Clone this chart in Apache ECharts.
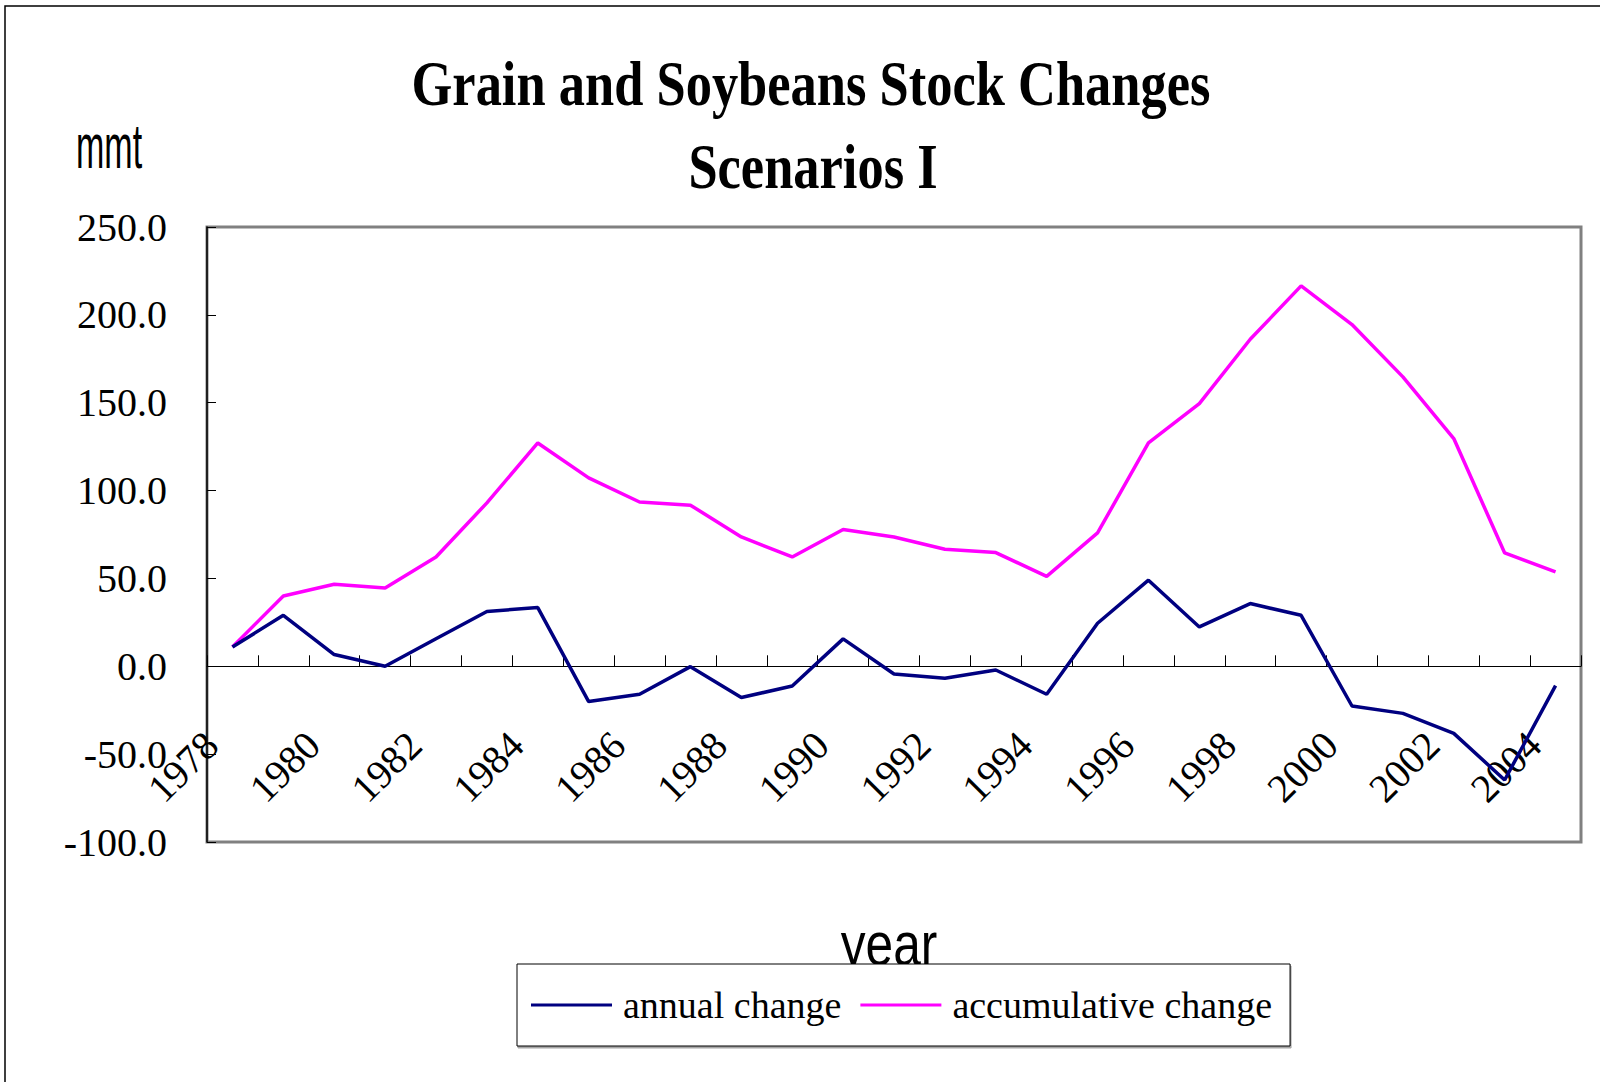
<!DOCTYPE html>
<html>
<head>
<meta charset="utf-8">
<script src="https://cdn.jsdelivr.net/npm/echarts@6/dist/echarts.min.js"></script>
<style>
html,body{margin:0;padding:0;background:#fff;}
#chart{width:1600px;height:1082px;}
</style>
</head>
<body>
<div id="chart"></div>
<script>
var years = ['1978','1979','1980','1981','1982','1983','1984','1985','1986','1987','1988','1989','1990','1991','1992','1993','1994','1995','1996','1997','1998','1999','2000','2001','2002','2003','2004'];
var annualChange = [11.0, 29.0, 6.7, 0.0, 15.7, 31.2, 33.4, -20.1, -15.9, -0.2, -17.8, -11.2, 15.6, -4.4, -6.8, -2.1, -15.9, 24.5, 49.0, 22.4, 35.7, 29.0, -22.6, -26.8, -38.2, -64.7, -11.0];
var accumulativeChange = [11.0, 40.0, 46.7, 44.6, 62.2, 93.0, 127.1, 107.2, 93.5, 91.7, 73.6, 62.2, 77.8, 73.6, 66.6, 64.7, 51.2, 75.9, 127.1, 149.5, 186.1, 216.5, 194.5, 164.7, 129.6, 64.5, 53.7];
var seriesNames = ['annual change', 'accumulative change'];
var titleLines = ['Grain and Soybeans Stock Changes', 'Scenarios I'];
var yUnit = 'mmt';
var xName = 'year';
var yMin = -100, yMax = 250, yStep = 50;

var serif = "'Liberation Serif','Times New Roman',serif";
var sans = "'Liberation Sans',Arial,sans-serif";

var gridTop = 227, gridBottom = 240, chartH = 1082;
var plotH = chartH - gridTop - gridBottom;
// distance from the bottom edge of the plot up to the value 0
var zeroOffset = plotH * (0 - yMin) / (yMax - yMin);

var chart = echarts.init(document.getElementById('chart'), null, {renderer: 'svg'});
chart.setOption({
  backgroundColor: '#fff',
  animation: false,
  graphic: [
    {type: 'rect', z: 0, shape: {x: 5, y: 6, width: 1700, height: 1200}, style: {fill: 'none', stroke: '#000', lineWidth: 1.5}},
    {type: 'text', z: 1, x: 811, y: 84, scaleX: 0.82, style: {text: titleLines[0], font: 'bold 64px ' + serif, fill: '#000', textAlign: 'center', textVerticalAlign: 'middle', align: 'center', verticalAlign: 'middle'}},
    {type: 'text', z: 1, x: 813, y: 167, scaleX: 0.82, style: {text: titleLines[1], font: 'bold 64px ' + serif, fill: '#000', textAlign: 'center', textVerticalAlign: 'middle', align: 'center', verticalAlign: 'middle'}},
    {type: 'text', z: 1, x: 76, y: 146, scaleX: 0.54, style: {text: yUnit, font: '63px ' + sans, fill: '#000', textAlign: 'left', textVerticalAlign: 'middle', align: 'left', verticalAlign: 'middle'}},
    {type: 'text', z: 1, x: 889, y: 943, scaleX: 0.8, style: {text: xName, font: '62px ' + sans, fill: '#000', textAlign: 'center', textVerticalAlign: 'middle', align: 'center', verticalAlign: 'middle'}}
  ],
  grid: {left: 207, right: 19, top: gridTop, bottom: gridBottom, show: true, borderColor: '#808080', borderWidth: 3, backgroundColor: 'transparent', containLabel: false, outerBoundsMode: 'none'},
  legend: {
    z: 10,
    left: 517, top: 964,
    orient: 'horizontal',
    padding: [22, 18, 22, 14],
    itemGap: 19,
    itemWidth: 81,
    itemHeight: 3,
    icon: 'rect',
    data: seriesNames,
    selectedMode: false,
    textStyle: {fontFamily: serif, fontSize: 38, color: '#000', padding: [0, 0, 0, 6]},
    borderColor: '#000',
    borderWidth: 1,
    backgroundColor: '#fff',
    shadowColor: 'rgba(0,0,0,0.35)',
    shadowOffsetX: 1,
    shadowOffsetY: 2,
    shadowBlur: 0
  },
  xAxis: {
    type: 'category',
    data: years,
    boundaryGap: true,
    position: 'bottom',
    offset: -zeroOffset,
    axisLine: {show: true, onZero: false, lineStyle: {color: '#000', width: 1}},
    axisTick: {show: true, inside: true, length: 11, interval: 0, lineStyle: {color: '#000', width: 1}},
    axisLabel: {interval: 1, rotate: 45, margin: 51, padding: [0, 30, 0, 0], fontFamily: serif, fontSize: 40, color: '#000', hideOverlap: false},
    splitLine: {show: false}
  },
  yAxis: {
    type: 'value',
    min: yMin, max: yMax, interval: yStep,
    axisLine: {show: true, onZero: false, lineStyle: {color: '#000', width: 1.5}},
    axisTick: {show: true, inside: true, length: 9, lineStyle: {color: '#000', width: 1}},
    axisLabel: {margin: 40, fontFamily: serif, fontSize: 40, color: '#000', formatter: function (v) { return v.toFixed(1); }},
    splitLine: {show: false}
  },
  series: [
    {name: seriesNames[0], type: 'line', data: annualChange, symbol: 'none', color: '#000080', lineStyle: {color: '#000080', width: 3.5}, z: 3},
    {name: seriesNames[1], type: 'line', data: accumulativeChange, symbol: 'none', color: '#FF00FF', lineStyle: {color: '#FF00FF', width: 3.5}, z: 2}
  ]
});
</script>
</body>
</html>
